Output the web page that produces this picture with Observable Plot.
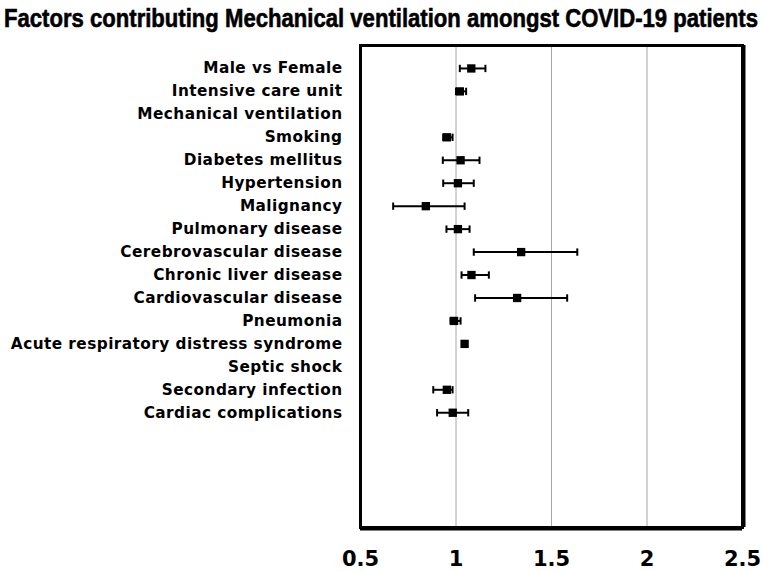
<!DOCTYPE html>
<html>
<head>
<meta charset="utf-8">
<script src="https://cdn.jsdelivr.net/npm/d3@7"></script>
<script src="https://cdn.jsdelivr.net/npm/@observablehq/plot@0.6"></script>
<style>
  html, body { margin: 0; padding: 0; background: #fff; }
  #title { position: relative; height: 36px; width: 762px; overflow: hidden; }
  #title span { position: absolute; left: 381px; top: 2px; line-height: 32px; white-space: nowrap; font-family: "Liberation Sans", Arial, sans-serif; font-weight: bold; font-size: 26px; color: #000; transform: translateX(-50%) scaleX(0.85); transform-origin: center; -webkit-text-stroke: 0.6px #000; }
  g[aria-label="y-axis tick label"] text { letter-spacing: 0.45px; }
</style>
</head>
<body>
<div id="title"><span>Factors contributing Mechanical ventilation amongst COVID-19 patients</span></div>
<div id="chart"></div>
<script>
const factors = [
  "Male vs Female",
  "Intensive care unit",
  "Mechanical ventilation",
  "Smoking",
  "Diabetes mellitus",
  "Hypertension",
  "Malignancy",
  "Pulmonary disease",
  "Cerebrovascular disease",
  "Chronic liver disease",
  "Cardiovascular disease",
  "Pneumonia",
  "Acute respiratory distress syndrome",
  "Septic shock",
  "Secondary infection",
  "Cardiac complications"
];
const estimate = [1.08, 1.02, null, 0.952, 1.024, 1.01, 0.842, 1.01, 1.341, 1.081, 1.32, 0.99, 1.045, null, 0.952, 0.983];
const lower    = [1.02, 1.00, null, 0.933, 0.931, 0.933, 0.671, 0.95, 1.093, 1.029, 1.10, 0.971, 1.035, null, 0.881, 0.901];
const upper    = [1.154, 1.053, null, 0.982, 1.123, 1.093, 1.045, 1.071, 1.635, 1.172, 1.582, 1.024, 1.058, null, 0.982, 1.064];
const xTicks = [0.5, 1, 1.5, 2, 2.5];
const gridValues = [1, 1.5, 2];

const rows = factors.map((f, i) => ({factor: f, idx: i + 1, est: estimate[i], lo: lower[i], hi: upper[i]}))
  .filter(d => d.est != null);
const capH = 0.16;

const plot = Plot.plot({
  width: 762,
  height: 536,
  marginLeft: 360,
  marginRight: 20,
  marginTop: 9,
  marginBottom: 45,
  x: {domain: [0.5, 2.5]},
  y: {domain: [0, 21], reverse: true},
  style: {fontFamily: "'DejaVu Sans', sans-serif", color: "#000", background: "#fff"},
  marks: [
    Plot.ruleX(gridValues, {stroke: "#a6a6a6", strokeWidth: 1}),
    Plot.link(rows, {x1: "lo", x2: "hi", y1: "idx", y2: "idx", stroke: "#000", strokeWidth: 2}),
    Plot.link(rows, {x1: "lo", x2: "lo", y1: d => d.idx - capH, y2: d => d.idx + capH, stroke: "#000", strokeWidth: 2}),
    Plot.link(rows, {x1: "hi", x2: "hi", y1: d => d.idx - capH, y2: d => d.idx + capH, stroke: "#000", strokeWidth: 2}),
    Plot.dot(rows, {x: "est", y: "idx", symbol: "square", r: 4.7, fill: "#000", stroke: "none"}),
    Plot.frame({stroke: "#000", strokeWidth: 3}),
    Plot.ruleX([2.5], {stroke: "#000", strokeWidth: 2, dx: 2}),
    Plot.ruleY([0], {y: () => 21, stroke: "#000", strokeWidth: 2, dy: 2}),
    Plot.axisY({
      ticks: d3.range(1, factors.length + 1),
      tickFormat: i => factors[i - 1],
      tickSize: 0,
      tickPadding: 18,
      fontSize: 15.3,
      fontWeight: "bold",
      label: null,
      stroke: "#000",
      strokeWidth: 0.7
    }),
    Plot.axisX({
      ticks: xTicks,
      tickFormat: d => String(d),
      tickSize: 0,
      tickPadding: 24,
      fontSize: 21,
      fontWeight: "bold",
      label: null,
      stroke: "#000",
      strokeWidth: 0.9
    })
  ]
});
document.getElementById("chart").appendChild(plot);
</script>
</body>
</html>
